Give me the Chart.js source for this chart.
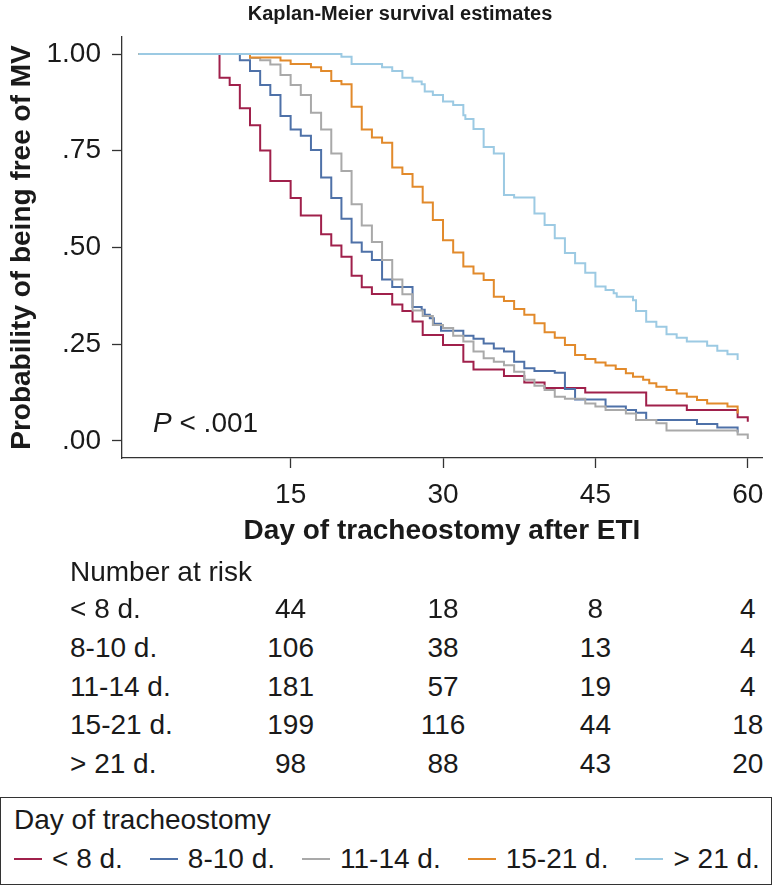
<!DOCTYPE html>
<html lang="en">
<head>
<meta charset="utf-8">
<title>Kaplan-Meier survival estimates</title>
<script src="https://cdn.jsdelivr.net/npm/chart.js@4.4.1/dist/chart.umd.min.js"></script>
<style>
    html, body { margin: 0; padding: 0; background: #fff; }
    body {
        width: 774px; height: 886px; position: relative; overflow: hidden;
        font-family: "Liberation Sans", Arial, Helvetica, sans-serif; color: #1a1a1a;
    }
    #km { position: absolute; left: 0; top: 0; }
    .txt { position: absolute; font-size: 28px; line-height: 32px; white-space: nowrap; }
    .num { transform: translateX(-50%); }
    #pval { left: 153px; top: 407px; }
    #legendBox {
        position: absolute; left: 0; top: 797px; width: 772px; height: 88px;
        box-sizing: border-box; border: 1.5px solid #333;
    }
    #legendBox .txt { left: 13px; }
    #legTitle { top: 6px; }
    #legItems { position: absolute; left: 13px; top: 45px; display: flex; align-items: center; gap: 27px; }
    .legItem { display: flex; align-items: center; font-size: 28px; line-height: 32px; white-space: nowrap; }
    .legLine { width: 28px; height: 2px; margin-right: 10px; }
</style>
</head>
<body>
<canvas id="km" width="774" height="560"></canvas>
<div id="pval" class="txt"><i>P</i> &lt; .001</div>
<div id="riskTable"></div>
<div id="legendBox">
    <div id="legTitle" class="txt">Day of tracheostomy</div>
    <div id="legItems"></div>
</div>

<script>
// --- Данные ---

const groupLabels = ['< 8 d.', '8-10 d.', '11-14 d.', '15-21 d.', '> 21 d.'];
const groupColors = ['#a0204b', '#4e71a8', '#a9a9a9', '#e28a2b', '#9ccae3'];

// < 8 d.
const lt8Days = [0, 8, 9, 10, 11, 12, 13, 15, 16, 18, 19, 20, 21, 22, 23, 25, 26, 27, 28, 30, 32, 33, 36, 38, 40, 44, 50, 54, 59, 60];
const lt8Surv = [1, .939, .920, .860, .816, .751, .672, .628, .583, .534, .505, .476, .427, .397, .380, .353, .336, .309, .274, .248, .205, .185, .168, .151, .137, .125, .092, .080, .061, .050];

// 8-10 d.
const d8to10Days = [0, 10, 11, 12, 13, 14, 15, 16, 17, 18, 19, 20, 21, 22, 23, 24, 25, 27, 27.9, 28.2, 28.7, 29.1, 29.8, 32, 33, 34, 35, 36, 37, 38, 39, 41, 42, 43, 46, 48, 49, 50, 55, 57, 59];
const d8to10Surv = [1, .984, .956, .920, .894, .840, .805, .789, .752, .681, .628, .574, .513, .489, .468, .417, .398, .346, .339, .326, .317, .303, .285, .272, .264, .252, .239, .231, .205, .188, .181, .176, .134, .107, .089, .080, .073, .054, .044, .035, .022];

// 11-14 d.
const d11to14Days = [0, 11, 12, 13, 14, 15, 16, 17, 18, 19, 20, 21, 22, 23, 24, 25, 26, 27, 28, 29, 30, 31, 32, 33, 34, 35, 36, 37, 38, 39, 40, 41, 42, 44, 45, 46, 48, 49, 51, 52, 59, 60];
const d11to14Surv = [1, .990, .984, .973, .946, .920, .894, .848, .805, .743, .698, .612, .557, .514, .468, .417, .379, .337, .323, .300, .292, .272, .257, .231, .214, .205, .196, .179, .158, .143, .132, .114, .109, .097, .089, .080, .071, .054, .046, .027, .017, .005];

// 15-21 d.
const d15to21Days = [0, 11, 14, 15, 17, 18, 19, 20, 21, 22, 23, 24, 25, 26, 27, 28, 29, 30, 31, 32, 33, 34, 35, 36, 37, 38, 39, 40, 41, 42, 43, 44, 45, 46, 47, 48, 48.7, 49.7, 50.3, 51, 52, 53, 54, 55, 56, 58, 59];
const d15to21Surv = [1, .991, .983, .974, .966, .956, .930, .922, .864, .805, .784, .771, .707, .690, .657, .616, .571, .519, .487, .451, .433, .416, .373, .362, .341, .326, .304, .281, .267, .248, .222, .212, .203, .195, .186, .175, .166, .158, .149, .140, .132, .123, .114, .106, .097, .089, .071];

// > 21 d.
const gt21Days = [0, 20, 21, 24, 25, 26, 27, 27.9, 28.2, 29, 30, 31, 32, 32.2, 33, 34, 35, 36, 37, 39, 40, 41, 42, 43, 44, 45, 46, 46.8, 47.1, 48.7, 49, 50, 51, 52, 53, 54, 56, 57, 58, 59];
const gt21Surv = [1, .993, .974, .966, .956, .939, .929, .922, .903, .894, .877, .868, .842, .832, .806, .760, .743, .636, .629, .588, .558, .524, .486, .459, .435, .399, .390, .382, .373, .364, .336, .308, .295, .276, .267, .257, .246, .233, .224, .209];

// Оси
const xTicks = [15, 30, 45, 60];
const yTicks = [0, .25, .5, .75, 1];
const yTickLabels = ['.00', '.25', '.50', '.75', '1.00'];

// Number at risk
const riskDays = [15, 30, 45, 60];
const riskLt8 = [44, 18, 8, 4];
const risk8to10 = [106, 38, 13, 4];
const risk11to14 = [181, 57, 19, 4];
const risk15to21 = [199, 116, 44, 18];
const riskGt21 = [98, 88, 43, 20];

// --- Графики ---

const FONT = '"Liberation Sans", Arial, Helvetica, sans-serif';
const INK = '#1a1a1a';
const AXIS = '#333';
const PAD_LEFT = 38; // сдвигает заголовок вправо, как в оригинале

const seriesDays = [lt8Days, d8to10Days, d11to14Days, d15to21Days, gt21Days];
const seriesSurv = [lt8Surv, d8to10Surv, d11to14Surv, d15to21Surv, gt21Surv];

const datasets = groupLabels.map((label, i) => ({
    label: label,
    data: seriesDays[i].map((d, j) => ({ x: d, y: seriesSurv[i][j] })),
    borderColor: groupColors[i],
    borderWidth: 2,
    stepped: true,
    pointRadius: 0,
    fill: false,
    order: groupLabels.length - 1 - i // последняя группа рисуется сверху
}));

const chart = new Chart(document.getElementById('km'), {
    type: 'line',
    data: { datasets: datasets },
    options: {
        responsive: false,
        animation: false,
        events: [],
        layout: { padding: { left: PAD_LEFT, right: 12, top: 0, bottom: 0 } },
        plugins: {
            legend: { display: false },
            tooltip: { enabled: false },
            title: {
                display: true,
                text: 'Kaplan-Meier survival estimates',
                color: INK,
                font: { family: FONT, size: 20, weight: 'bold' },
                padding: { top: 2, bottom: 11 }
            }
        },
        scales: {
            x: {
                type: 'linear',
                min: -1.6,
                max: 61.4,
                afterBuildTicks: axis => { axis.ticks = xTicks.map(v => ({ value: v })); },
                afterFit: axis => { axis.height = 102; },
                ticks: {
                    color: INK, autoSkip: false, maxRotation: 0, padding: 10,
                    font: { family: FONT, size: 28 }
                },
                grid: {
                    display: true, drawOnChartArea: false, drawTicks: true,
                    tickLength: 10, tickColor: AXIS, tickWidth: 1.3
                },
                border: { display: true, color: AXIS, width: 1.3 },
                title: {
                    display: true, text: 'Day of tracheostomy after ETI', color: INK,
                    font: { family: FONT, size: 28, weight: 'bold' },
                    padding: { top: 0, bottom: 12 }
                }
            },
            y: {
                type: 'linear',
                min: -0.044,
                max: 1.044,
                afterBuildTicks: axis => { axis.ticks = yTicks.map(v => ({ value: v })); },
                afterFit: axis => { axis.width = 122 - PAD_LEFT; },
                ticks: {
                    color: INK, autoSkip: false, padding: 11,
                    font: { family: FONT, size: 28 },
                    callback: (value, index) => yTickLabels[index]
                },
                grid: {
                    display: true, drawOnChartArea: false, drawTicks: true,
                    tickLength: 10, tickColor: AXIS, tickWidth: 1.3
                },
                border: { display: true, color: AXIS, width: 1.3 },
                title: {
                    display: true, text: 'Probability of being free of MV', color: INK,
                    font: { family: FONT, size: 28, weight: 'bold' },
                    padding: { top: 5 - PAD_LEFT, bottom: 0 }
                }
            }
        }
    }
});

// --- Таблица "Number at risk" (столбцы по шкале X) ---

const riskRows = [riskLt8, risk8to10, risk11to14, risk15to21, riskGt21];
const rowCenters = [609, 648, 687, 725, 764];
const table = document.getElementById('riskTable');

function addText(parent, text, left, centerY, cls) {
    const el = document.createElement('div');
    el.className = 'txt' + (cls ? ' ' + cls : '');
    el.textContent = text;
    el.style.left = left + 'px';
    el.style.top = (centerY - 16) + 'px';
    parent.appendChild(el);
}

addText(table, 'Number at risk', 70, 572);
riskRows.forEach((row, i) => {
    addText(table, groupLabels[i], 70, rowCenters[i]);
    row.forEach((n, j) => {
        addText(table, String(n), chart.scales.x.getPixelForValue(riskDays[j]), rowCenters[i], 'num');
    });
});

// --- Легенда ---

const legItems = document.getElementById('legItems');
groupLabels.forEach((label, i) => {
    legItems.insertAdjacentHTML('beforeend',
        `<div class="legItem"><span class="legLine" style="background:${groupColors[i]}"></span>${label.replace('<', '&lt;').replace('>', '&gt;')}</div>`);
});
</script>
</body>
</html>
